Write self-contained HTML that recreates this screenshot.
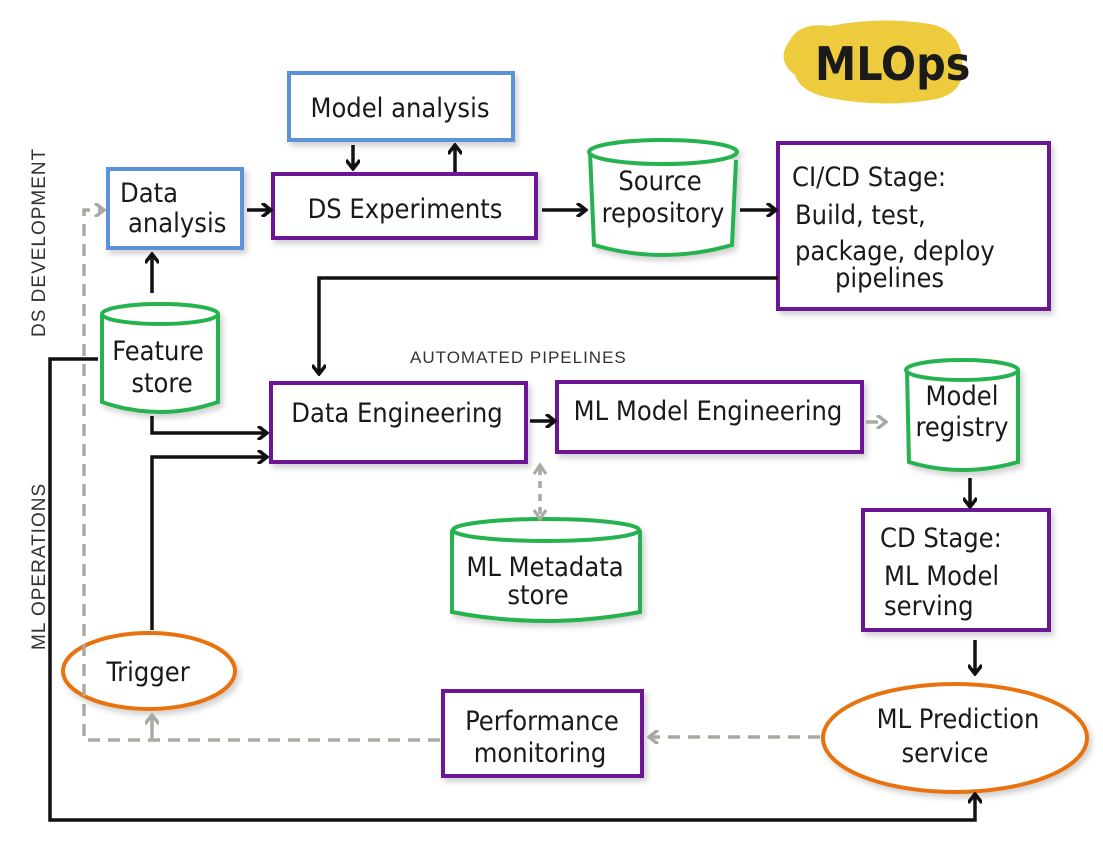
<!DOCTYPE html>
<html><head><meta charset="utf-8"><style>
html,body{margin:0;padding:0;background:#fff;}
svg{display:block;}
text{font-family:"DejaVu Sans Condensed","Liberation Sans Narrow","Liberation Sans",sans-serif;fill:#1a1a1a;}
.l{font-size:27px;}
.s{font-size:17px;letter-spacing:1px;font-family:"Liberation Sans",sans-serif;fill:#333;}
</style></head><body>
<svg width="1103" height="863" viewBox="0 0 1103 863" xmlns="http://www.w3.org/2000/svg">
<defs>
<marker id="a" markerWidth="12" markerHeight="14" refX="9" refY="7" orient="auto" markerUnits="userSpaceOnUse"><path d="M1,0 L10,7 L1,14" fill="none" stroke="#111" stroke-width="3.5"/></marker>
<marker id="g" markerWidth="12" markerHeight="14" refX="9" refY="7" orient="auto" markerUnits="userSpaceOnUse"><path d="M1,0 L10,7 L1,14" fill="none" stroke="#aaa9a2" stroke-width="3.5"/></marker>
<filter id="sh"><feDropShadow dx="3" dy="4" stdDeviation="3" flood-color="#000" flood-opacity="0.18"/></filter>
</defs>
<path d="M790,40 Q800,22 830,26 Q880,16 930,24 Q960,30 962,60 Q968,95 930,100 Q880,108 830,98 Q800,92 795,75 Q775,60 790,40Z" fill="#edcb3d"/>
<text x="815" y="80" style="font-size:46px;font-weight:bold;">MLOps</text>

<g fill="none" stroke-width="4" filter="url(#sh)">
<rect x="289" y="73" width="224" height="67" stroke="#5b93d8" fill="#fff"/>
<rect x="108" y="169" width="134" height="79" stroke="#5b93d8" fill="#fff"/>
<rect x="273" y="174" width="263" height="64" stroke="#6c1396" fill="#fff"/>
<rect x="778" y="143" width="271" height="166" stroke="#6c1396" fill="#fff"/>
<rect x="271" y="383" width="255" height="79" stroke="#6c1396" fill="#fff"/>
<rect x="557" y="382" width="305" height="70" stroke="#6c1396" fill="#fff"/>
<rect x="863" y="510" width="186" height="120" stroke="#6c1396" fill="#fff"/>
<rect x="443" y="691" width="199" height="85" stroke="#6c1396" fill="#fff"/>
<path d="M590,152 L594,245 Q662,265 732,245 L736,160" stroke="#27b34f" fill="#fff"/>
<ellipse cx="663" cy="152" rx="74" ry="12" stroke="#27b34f" fill="#fff"/>
<path d="M102,314 L102,402 Q160,422 218,402 L218,314" stroke="#27b34f" fill="#fff"/>
<ellipse cx="160" cy="314" rx="58" ry="10" stroke="#27b34f" fill="#fff"/>
<path d="M907,370 L909,462 Q962,478 1018,462 L1018,370" stroke="#27b34f" fill="#fff"/>
<ellipse cx="962" cy="370" rx="56" ry="10" stroke="#27b34f" fill="#fff"/>
<path d="M452,530 L452,612 Q545,630 640,612 L640,530" stroke="#27b34f" fill="#fff"/>
<ellipse cx="546" cy="530" rx="93" ry="11" stroke="#27b34f" fill="#fff"/>
<ellipse cx="149" cy="671" rx="86" ry="38" stroke="#e8720c" fill="#fff"/>
<ellipse cx="955" cy="738" rx="132" ry="54" stroke="#e8720c" fill="#fff"/>
</g>

<g fill="none" stroke="#111" stroke-width="3.5">
<path d="M353,145 V168" marker-end="url(#a)"/>
<path d="M455,172 V146" marker-end="url(#a)"/>
<path d="M247,210 H270" marker-end="url(#a)"/>
<path d="M542,210 H585" marker-end="url(#a)"/>
<path d="M740,210 H775" marker-end="url(#a)"/>
<path d="M778,278 H319 V373" marker-end="url(#a)"/>
<path d="M152,293 V255" marker-end="url(#a)"/>
<path d="M152,416 V433 H266" marker-end="url(#a)"/>
<path d="M152,630 V457 H266" marker-end="url(#a)"/>
<path d="M530,421 H554" marker-end="url(#a)"/>
<path d="M970,478 V506" marker-end="url(#a)"/>
<path d="M975,640 V673" marker-end="url(#a)"/>
<path d="M98,359 H50 V820 H975 V795" marker-end="url(#a)"/>
</g>
<g fill="none" stroke="#aaa9a2" stroke-width="3.5" stroke-dasharray="12,8">
<path d="M440,740 H84 V210 H103" marker-end="url(#g)"/>
<path d="M152,740 V716" marker-end="url(#g)" stroke-dasharray="none"/>
<path d="M866,422 H885" marker-end="url(#g)"/>
<path d="M540,468 V516" stroke-dasharray="7,6"/>
<path d="M820,737 H650" marker-end="url(#g)"/>
</g>
<path d="M534,474 L540,465 L546,474 M534,510 L540,519 L546,510" fill="none" stroke="#aaa9a2" stroke-width="3"/>

<text class="l" x="400" y="117" text-anchor="middle">Model  analysis</text>
<text class="l" x="120" y="202">Data</text>
<text class="l" x="128" y="232">analysis</text>
<text class="l" x="405" y="218" text-anchor="middle">DS Experiments</text>
<text class="l" x="660" y="190" text-anchor="middle">Source</text>
<text class="l" x="663" y="222" text-anchor="middle">repository</text>
<text class="l" x="792" y="186">CI/CD  Stage:</text>
<text class="l" x="795" y="224">Build, test,</text>
<text class="l" x="795" y="260">package, deploy</text>
<text class="l" x="835" y="287">pipelines</text>
<text class="l" x="158" y="360" text-anchor="middle">Feature</text>
<text class="l" x="162" y="392" text-anchor="middle">store</text>
<text class="s" x="410" y="363">AUTOMATED PIPELINES</text>
<text class="l" x="397" y="422" text-anchor="middle">Data Engineering</text>
<text class="l" x="708" y="420" text-anchor="middle">ML Model Engineering</text>
<text class="l" x="962" y="405" text-anchor="middle">Model</text>
<text class="l" x="962" y="436" text-anchor="middle">registry</text>
<text class="l" x="545" y="576" text-anchor="middle">ML Metadata</text>
<text class="l" x="538" y="604" text-anchor="middle">store</text>
<text class="l" x="880" y="547">CD Stage:</text>
<text class="l" x="884" y="585">ML Model</text>
<text class="l" x="884" y="615">serving</text>
<text class="l" x="148" y="681" text-anchor="middle">Trigger</text>
<text class="l" x="542" y="730" text-anchor="middle">Performance</text>
<text class="l" x="540" y="762" text-anchor="middle">monitoring</text>
<text class="l" x="958" y="728" text-anchor="middle">ML Prediction</text>
<text class="l" x="945" y="762" text-anchor="middle">service</text>
<text class="s" transform="translate(45,337) rotate(-90)" style="font-size:19px;">DS DEVELOPMENT</text>
<text class="s" transform="translate(45,650) rotate(-90)" style="font-size:19px;">ML OPERATIONS</text>
</svg>
</body></html>
